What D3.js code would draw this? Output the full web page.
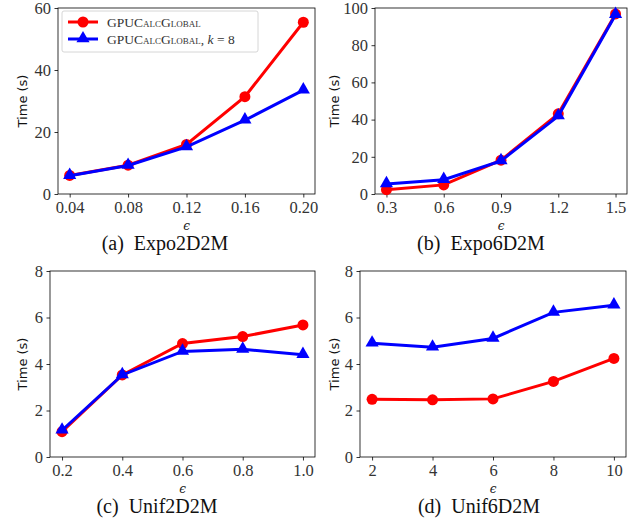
<!DOCTYPE html>
<html>
<head>
<meta charset="utf-8">
<script src="https://cdn.jsdelivr.net/npm/d3@7"></script>
<style>
  body { margin: 0; background: #fff; }
  svg text { fill: #222; white-space: pre; }
</style>
</head>
<body>
<div id="app"></div>
<script>
// x values and series per panel
const epsA = [0.04, 0.08, 0.12, 0.16, 0.20];
const redA = [6.0, 9.3, 16.0, 31.4, 55.4];
const blueA = [5.9, 9.2, 15.2, 23.8, 33.5];

const epsB = [0.3, 0.6, 0.9, 1.2, 1.5];
const redB = [2.3, 4.9, 18.2, 43.1, 96.8];
const blueB = [5.4, 7.7, 17.8, 41.9, 96.4];

const epsC = [0.2, 0.4, 0.6, 0.8, 1.0];
const redC = [1.09, 3.53, 4.88, 5.18, 5.68];
const blueC = [1.15, 3.53, 4.54, 4.63, 4.40];

const epsD = [2, 4, 6, 8, 10];
const redD = [2.48, 2.46, 2.50, 3.25, 4.24];
const blueD = [4.89, 4.72, 5.10, 6.22, 6.53];

const xTicksA = ["0.04", "0.08", "0.12", "0.16", "0.20"];
const xTicksB = ["0.3", "0.6", "0.9", "1.2", "1.5"];
const xTicksC = ["0.2", "0.4", "0.6", "0.8", "1.0"];
const xTicksD = ["2", "4", "6", "8", "10"];

const yTicksA = [0, 20, 40, 60];
const yTicksB = [0, 20, 40, 60, 80, 100];
const yTicksC = [0, 2, 4, 6, 8];
const yTicksD = [0, 2, 4, 6, 8];

const captions = ["(a)  Expo2D2M", "(b)  Expo6D2M", "(c)  Unif2D2M", "(d)  Unif6D2M"];

const panels = [
  { x: epsA, red: redA, blue: blueA, xt: xTicksA, yt: yTicksA, cap: captions[0],
    box: [58, 8, 315, 194], capX: 165, ylabX: 22, legend: true },
  { x: epsB, red: redB, blue: blueB, xt: xTicksB, yt: yTicksB, cap: captions[1],
    box: [375, 8, 627, 194], capX: 481, ylabX: 334 },
  { x: epsC, red: redC, blue: blueC, xt: xTicksC, yt: yTicksC, cap: captions[2],
    box: [50, 271, 315, 457], capX: 157, ylabX: 22 },
  { x: epsD, red: redD, blue: blueD, xt: xTicksD, yt: yTicksD, cap: captions[3],
    box: [360, 271, 626, 457], capX: 479, ylabX: 334 }
];

const svg = d3.select("#app").append("svg")
  .attr("width", 644).attr("height", 525);

const serif = "'Liberation Serif', 'DejaVu Serif', serif";
const sans = "'DejaVu Sans', sans-serif";

function drawPanel(p) {
  const [x0, y0, x1, y1] = p.box;
  const lo = d3.min(p.x), hi = d3.max(p.x), m = (hi - lo) * 0.05;
  const x = d3.scaleLinear().domain([lo - m, hi + m]).range([x0, x1]);
  const y = d3.scaleLinear().domain([0, d3.max(p.yt)]).range([y1, y0]);
  const g = svg.append("g");

  // axes
  const xa = g.append("g").attr("transform", `translate(0,${y1})`)
    .call(d3.axisBottom(x).tickValues(p.x).tickFormat((d, i) => p.xt[i])
      .tickSize(3.5).tickPadding(3.5));
  const ya = g.append("g").attr("transform", `translate(${x0},0)`)
    .call(d3.axisLeft(y).tickValues(p.yt).tickFormat(d3.format("d"))
      .tickSize(3.5).tickPadding(3.5));
  [xa, ya].forEach(a => {
    a.select(".domain").remove();
    a.attr("font-family", null).attr("font-size", null);
    a.selectAll("line").attr("stroke", "#000").attr("stroke-width", 0.8);
    a.selectAll("text").style("font-family", serif).style("font-size", "16.5px")
      .style("fill", "#333");
  });

  // frame
  g.append("rect").attr("x", x0).attr("y", y0)
    .attr("width", x1 - x0).attr("height", y1 - y0)
    .attr("fill", "none").attr("stroke", "#000").attr("stroke-width", 0.8);

  // series
  const line = vals => d3.line().x((d, i) => x(p.x[i])).y(d => y(d))(vals);
  g.append("path").attr("d", line(p.red)).attr("fill", "none")
    .attr("stroke", "#ff0000").attr("stroke-width", 3);
  g.selectAll(".dot").data(p.red).join("circle")
    .attr("cx", (d, i) => x(p.x[i])).attr("cy", d => y(d)).attr("r", 5.5)
    .attr("fill", "#ff0000");
  g.append("path").attr("d", line(p.blue)).attr("fill", "none")
    .attr("stroke", "#0000ff").attr("stroke-width", 3);
  const tri = d3.symbol().type(d3.symbolTriangle).size(75);
  g.selectAll(".tri").data(p.blue).join("path")
    .attr("d", tri)
    .attr("transform", (d, i) => `translate(${x(p.x[i])},${y(d) - 0.5})`)
    .attr("fill", "#0000ff");

  // labels
  g.append("text").attr("x", (x0 + x1) / 2).attr("y", y1 + 36)
    .attr("text-anchor", "middle")
    .style("font-family", "'DejaVu Serif', serif")
    .style("font-style", "italic").style("font-size", "12px").text("\u03F5");
  g.append("text")
    .attr("transform", `translate(${p.ylabX},${(y0 + y1) / 2}) rotate(-90)`)
    .attr("text-anchor", "middle").attr("dominant-baseline", "central")
    .style("font-family", sans).style("font-size", "13px").style("fill", "#111")
    .text("Time (s)");
  g.append("text").attr("x", p.capX).attr("y", y1 + 56)
    .attr("text-anchor", "middle")
    .style("font-family", serif).style("font-size", "20px").style("fill", "#111")
    .text(p.cap);

  if (p.legend) drawLegend(g, x0);
}

function drawLegend(g, x0) {
  const lx = x0 + 4, ly = 11;
  g.append("rect").attr("x", lx).attr("y", ly).attr("width", 196).attr("height", 41)
    .attr("rx", 2).attr("fill", "#fff").attr("fill-opacity", 0.8)
    .attr("stroke", "#ccc").attr("stroke-width", 0.8);
  const rows = [
    { c: "#ff0000", mk: "circle" },
    { c: "#0000ff", mk: "tri" }
  ];
  rows.forEach((r, i) => {
    const cy = ly + 11 + i * 17;
    g.append("line").attr("x1", lx + 6).attr("x2", lx + 36)
      .attr("y1", cy).attr("y2", cy).attr("stroke", r.c).attr("stroke-width", 3);
    if (r.mk === "circle") {
      g.append("circle").attr("cx", lx + 21).attr("cy", cy).attr("r", 5.5).attr("fill", r.c);
    } else {
      g.append("path").attr("d", d3.symbol().type(d3.symbolTriangle).size(75))
        .attr("transform", `translate(${lx + 21},${cy - 0.5})`).attr("fill", r.c);
    }
    const t = g.append("text").attr("x", lx + 45).attr("y", cy + 4.5)
      .style("font-family", serif).style("font-size", "13.5px").style("fill", "#333");
    t.append("tspan").text("GPU");
    t.append("tspan").style("font-variant", "small-caps").text("CalcGlobal");
    if (i === 1) {
      t.append("tspan").text(", ");
      t.append("tspan").style("font-style", "italic").text("k");
      t.append("tspan").text(" = 8");
    }
  });
}

panels.forEach(drawPanel);
</script>
</body>
</html>
